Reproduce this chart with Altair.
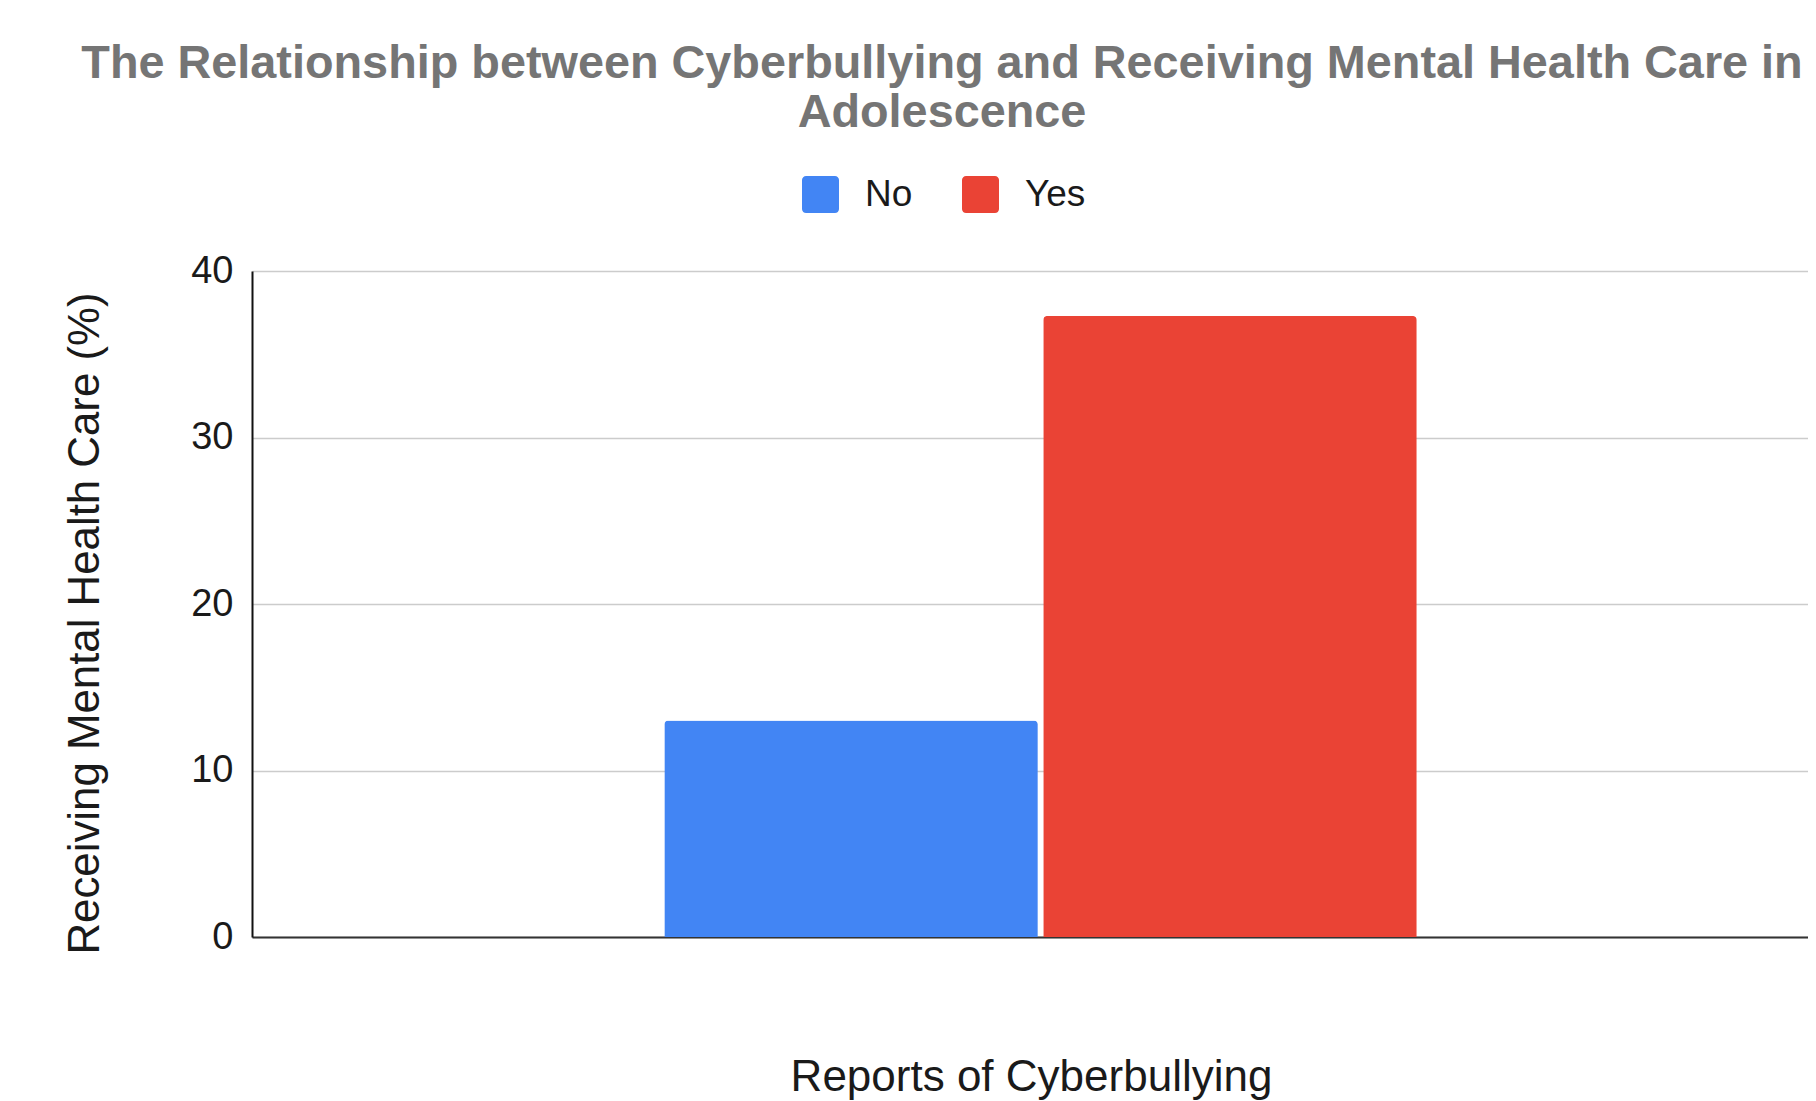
import altair as alt
import pandas as pd

# ---- data ----
categories = ["No", "Yes"]
values = [13.0, 37.3]
colors = ["#4285F4", "#EA4335"]
y_ticks = [0, 10, 20, 30, 40]

df = pd.DataFrame({"report": ["Reports"] * len(categories), "group": categories, "pct": values})

FONT = "Liberation Sans"
rounded_square = ("M-1,-0.78 A0.22,0.22 0 0 1 -0.78,-1 L0.78,-1 A0.22,0.22 0 0 1 1,-0.78 "
                  "L1,0.78 A0.22,0.22 0 0 1 0.78,1 L-0.78,1 A0.22,0.22 0 0 1 -1,0.78 Z")

chart = alt.Chart(df).mark_bar(
    cornerRadiusTopLeft=4, cornerRadiusTopRight=4
).encode(
    x=alt.X(
        "report:N",
        scale=alt.Scale(paddingInner=0, paddingOuter=0.534, align=0.5131),
        axis=alt.Axis(
            title="Reports of Cyberbullying",
            labels=False, ticks=False, grid=False,
            domainColor="#333333", domainWidth=2,
            titleFontSize=44, titleFont=FONT, titleFontWeight="normal",
            titleColor="#1a1a1a", titleAlign="center", titleBaseline="alphabetic",
            titleX=779, titleY=153,
        ),
    ),
    xOffset=alt.XOffset(
        "group:N", sort=categories,
        scale=alt.Scale(paddingInner=0.0143, paddingOuter=0),
    ),
    y=alt.Y(
        "pct:Q",
        scale=alt.Scale(domain=[0, 40], nice=False),
        axis=alt.Axis(
            title="Receiving Mental Health Care (%)",
            values=y_ticks, ticks=False,
            labelFontSize=38, labelFont=FONT, labelColor="#1a1a1a", labelPadding=19,
            domainColor="#111111", domainWidth=2,
            gridColor="#cccccc", gridWidth=1.6,
            titleFontSize=43.8, titleFont=FONT, titleFontWeight="normal",
            titleColor="#1a1a1a", titleAngle=270, titleAlign="center",
            titleBaseline="middle", titleX=-167, titleY=352,
        ),
    ),
    color=alt.Color(
        "group:N",
        scale=alt.Scale(domain=categories, range=colors),
        legend=alt.Legend(
            title=None, orient="none", direction="horizontal",
            legendX=550, legendY=-95,
            symbolType=rounded_square, symbolSize=1369, symbolStrokeWidth=0,
            symbolOpacity=1,
            labelFontSize=37, labelFont=FONT, labelColor="#1a1a1a",
            labelOffset=26, columnPadding=49, labelLimit=300,
        ),
    ),
).properties(
    width=1556,
    height=666,
    autosize=alt.AutoSizeParams(type="none"),
    padding={"left": 244, "top": 263, "right": 0, "bottom": 164},
    title=alt.TitleParams(
        text=["The Relationship between Cyberbullying and Receiving Mental Health Care in",
              "Adolescence"],
        fontSize=46.8, font=FONT, fontWeight="bold", color="#757575",
        lineHeight=49, anchor="middle", dx=-88, dy=-35,
    ),
).configure_view(
    stroke=None
)

chart.save("out.html", embed_options={"renderer": "svg", "actions": False})
